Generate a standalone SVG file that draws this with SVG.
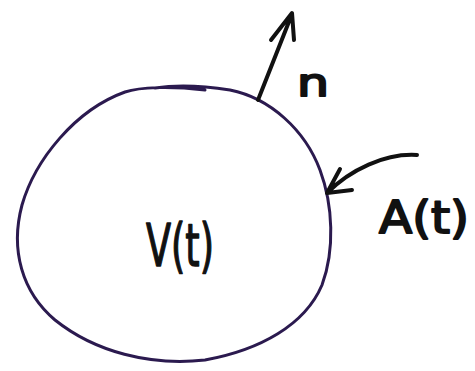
<svg xmlns="http://www.w3.org/2000/svg" width="475" height="371" viewBox="0 0 475 371">
<style>
.line{fill:none;stroke-linecap:round;stroke-linejoin:round}
.blob{stroke:#2b1a4f;stroke-width:3}
.ink{stroke:#111;stroke-width:4}
.lbl{font-family:"DejaVu Sans",sans-serif;fill:#111;stroke:#111;stroke-width:1.5;stroke-linejoin:round}
</style>
<rect width="475" height="371" fill="#fff"/>
<g id="volume">
<path class="line blob" d="M155,88 C180,84 205,86 230,90 C270,98 305,130 320,170 C333,205 335,250 322,285 C305,325 260,350 205,360 C150,366 95,352 55,320 C22,292 10,250 22,205 C35,160 75,110 125,92 C140,87 170,86 205,90"/>
</g>
<g id="labelV">
<text class="lbl" x="146" y="266" font-size="58" textLength="68" lengthAdjust="spacingAndGlyphs">V(t)</text>
</g>
<g id="labelA">
<text class="lbl" x="379" y="233" font-size="44" textLength="90" lengthAdjust="spacingAndGlyphs" style="stroke-width:2">A(t)</text>
</g>
<g id="labeln">
<text class="lbl" x="297" y="96" font-size="38" textLength="32" lengthAdjust="spacingAndGlyphs" style="stroke-width:2">n</text>
</g>
<g id="connectors">
<path class="line ink" d="M258,100 L292,14 M271,40 L292,13 L294,40"/>
<path class="line ink" d="M417,155 C385,153 350,170 327,193 M340,169 L327,193 L352,190"/>
</g>
</svg>
